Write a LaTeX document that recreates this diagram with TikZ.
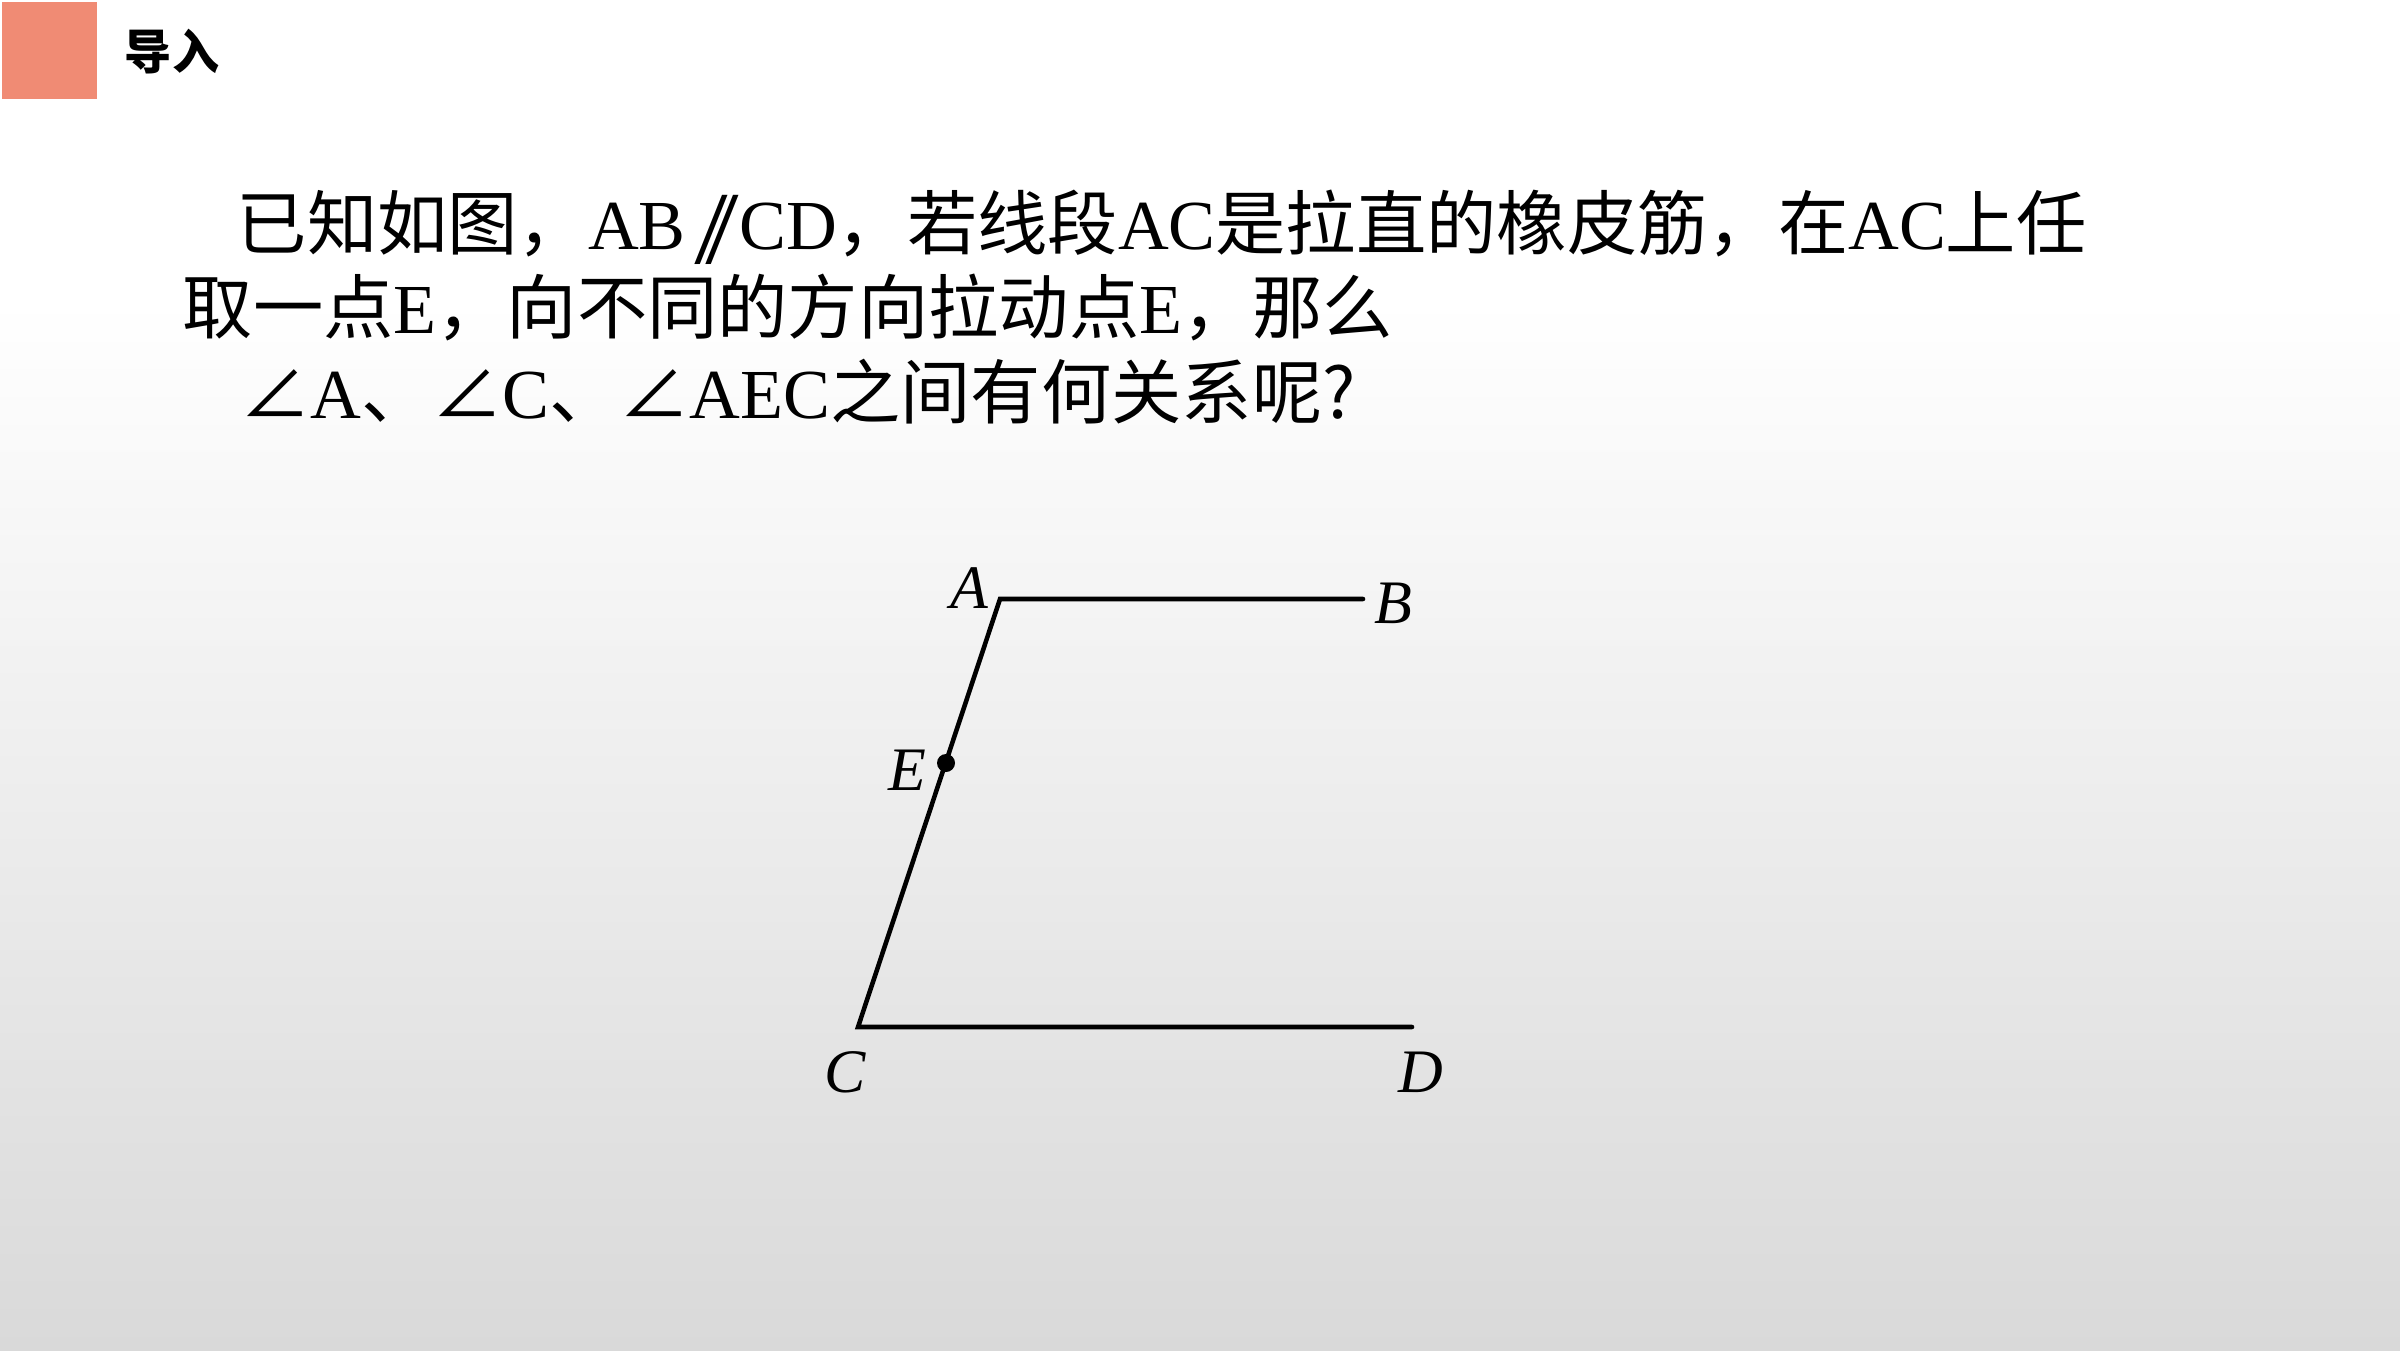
\documentclass[tikz,border=0pt]{standalone}
\usepackage{fontspec}
\setmainfont{Noto Sans CJK SC}
\newfontfamily\latin{Liberation Serif}
\newfontfamily\slsym[FakeSlant=0.4]{DejaVu Sans}
\newcommand\lt[1]{{\latin #1}}
\definecolor{salmon}{RGB}{240,139,116}
\definecolor{bgbot}{RGB}{217,217,217}
\tikzset{
  txt/.style={anchor=base west, inner sep=0pt, font=\fontsize{20pt}{24pt}\selectfont},
  lbl/.style={inner sep=0pt, font=\fontsize{17.6pt}{20pt}\selectfont\latin\itshape},
  seg/.style={line width=1.3pt, line cap=round, line join=miter},
}
\begin{document}
\begin{tikzpicture}[x=1cm,y=1cm]
\useasboundingbox (0,0) rectangle (24,13.5);
% background
\fill[white] (0,10.5) rectangle (24,13.5);
\shade[top color=white, bottom color=bgbot] (0,0) rectangle (24,10.5);
% header
\fill[salmon] (0.02,12.51) rectangle (0.97,13.48);
\node[inner sep=0pt, font=\fontsize{13.4pt}{16pt}\selectfont\bfseries] (title) at (1.72,12.98) {导入};
% text
\node[txt] (l1) at (2.36,11.0) {已知如图，\lt{AB}\kern0.08em{\slsym ∥}\kern0.18em\lt{CD}，若线段\lt{AC}是拉直的橡皮筋，在\lt{AC}上任};
\node[txt] (l2) at (1.82,10.16) {取一点\lt{E}，向不同的方向拉动点\lt{E}，那么};
\node[txt] (l3) at (2.40,9.32) {∠\lt{A}、∠\lt{C}、∠\lt{AEC}之间有何关系呢?};
% figure
\coordinate (A) at (10.00,7.51);
\coordinate (B) at (13.63,7.51);
\coordinate (C) at (8.58,3.23);
\coordinate (D) at (14.12,3.23);
\coordinate (E) at (9.46,5.87);
\draw[seg] (B) -- (A) -- (C) -- (D);
\fill (E) circle (0.09);
\node[lbl] (lA) at (9.69,7.62) {A};
\node[lbl] (lB) at (13.93,7.47) {B};
\node[lbl] (lE) at (9.07,5.80) {E};
\node[lbl] (lC) at (8.45,2.78) {C};
\node[lbl] (lD) at (14.21,2.78) {D};
\end{tikzpicture}
\end{document}
